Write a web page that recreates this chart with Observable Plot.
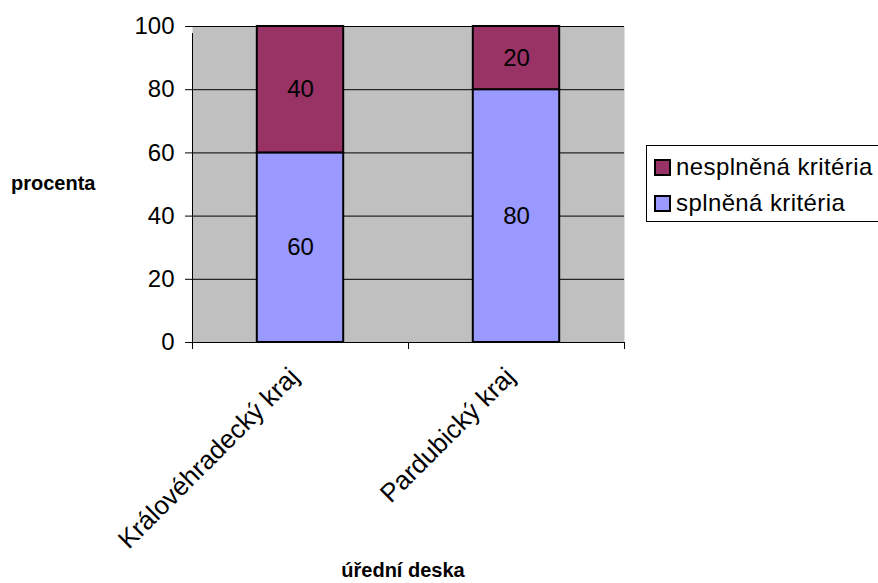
<!DOCTYPE html>
<html>
<head>
<meta charset="utf-8">
<script src="https://cdn.jsdelivr.net/npm/d3@7"></script>
<script src="https://cdn.jsdelivr.net/npm/@observablehq/plot@0.6"></script>
<style>
  html, body { margin: 0; padding: 0; background: #fff; }
  #wrap { position: relative; width: 878px; height: 583px; overflow: hidden; font-family: "Liberation Sans", Arial, sans-serif; }
  #wrap svg { position: absolute; left: 0; top: 0; }
  .ytitle { position: absolute; left: 11px; top: 171px; font-weight: bold; font-size: 20px; line-height: 24px; }
  .xtitle { position: absolute; left: 0; width: 806px; text-align: center; top: 560px; font-weight: bold; font-size: 20px; line-height: 21px; }
  .legend { position: absolute; left: 646px; top: 145px; width: 250px; height: 77px; border: 1px solid #000; box-sizing: border-box; background: #fff; }
  .legend .row { position: absolute; left: 7px; height: 28px; display: flex; align-items: center; font-size: 24px; letter-spacing: 0.4px; white-space: nowrap; }
  .legend .sw { width: 17px; height: 17px; border: 2px solid #000; margin-right: 5px; box-sizing: border-box; }
</style>
</head>
<body>
<div id="wrap"></div>
<script>
// Regions (úřední deska) and the share of criteria met / not met, in percent
const categories = ["Královéhradecký kraj", "Pardubický kraj"];
const splnena = [60, 80];
const nesplnena = [40, 20];
const seriesNames = ["splněná kritéria", "nesplněná kritéria"];
const seriesColors = ["#9999FF", "#993366"];
const yTicks = [0, 20, 40, 60, 80, 100];

// Long table: one row per stacked segment
const rows = [];
categories.forEach((c, i) => {
  rows.push({cat: c, i, series: seriesNames[0], value: splnena[i]});
  rows.push({cat: c, i, series: seriesNames[1], value: nesplnena[i]});
});
// Stack within each category; bars take the middle 40% of each slot
const stacked = [];
categories.forEach((c, i) => {
  let base = 0;
  rows.filter(r => r.i === i).forEach(r => {
    stacked.push({...r, y1: base, y2: base + r.value, x1: i + 0.3, x2: i + 0.7, xm: i + 0.5, ym: base + r.value / 2});
    base += r.value;
  });
});
const boundaries = d3.range(categories.length + 1);
const centers = categories.map((c, i) => i + 0.5);

const chart = Plot.plot({
  width: 878,
  height: 583,
  marginLeft: 192,
  marginRight: 254,
  marginTop: 26,
  marginBottom: 241,
  style: {fontFamily: "Liberation Sans, Arial, sans-serif", background: "transparent"},
  x: {type: "linear", domain: [0, categories.length]},
  y: {domain: [0, 100]},
  color: {domain: seriesNames, range: seriesColors},
  marks: [
    Plot.frame({fill: "#C0C0C0", stroke: null}),
    Plot.gridY(yTicks, {stroke: "#000", strokeOpacity: 1, strokeWidth: 1}),
    Plot.rect(stacked, {x1: "x1", x2: "x2", y1: "y1", y2: "y2", fill: "series", stroke: "#000", strokeWidth: 2}),
    Plot.text(stacked, {x: "xm", y: "ym", text: d => String(d.value), fontSize: 24, fill: "#000"}),
    Plot.ruleX([0], {y1: 0, y2: 100, insetBottom: -7, stroke: "#000", strokeWidth: 1}),
    Plot.ruleY([0], {stroke: "#000", strokeWidth: 1}),
    Plot.axisY(yTicks, {tickSize: 7, tickPadding: 11, fontSize: 24, stroke: "#000", fill: "#000", label: null}),
    Plot.axisX(boundaries, {tickSize: 7, tickFormat: () => "", stroke: "#000", label: null}),
    Plot.axisX(centers, {tickSize: 0, tickPadding: 30, dx: -6, tickRotate: -45, fontSize: 26, fill: "#000",
      tickFormat: d => categories[Math.round(d - 0.5)], label: null})
  ]
});

const wrap = document.getElementById("wrap");
wrap.appendChild(chart);

const yt = document.createElement("div");
yt.className = "ytitle"; yt.textContent = "procenta";
wrap.appendChild(yt);
const xt = document.createElement("div");
xt.className = "xtitle"; xt.textContent = "úřední deska";
wrap.appendChild(xt);

// Legend, listed top-down in reverse stacking order
const leg = document.createElement("div");
leg.className = "legend";
[1, 0].forEach((k, j) => {
  const row = document.createElement("div");
  row.className = "row";
  row.style.top = (7 + j * 36) + "px";
  const sw = document.createElement("div");
  sw.className = "sw"; sw.style.background = seriesColors[k];
  const t = document.createElement("span");
  t.textContent = seriesNames[k];
  row.appendChild(sw); row.appendChild(t);
  leg.appendChild(row);
});
wrap.appendChild(leg);
</script>
</body>
</html>
